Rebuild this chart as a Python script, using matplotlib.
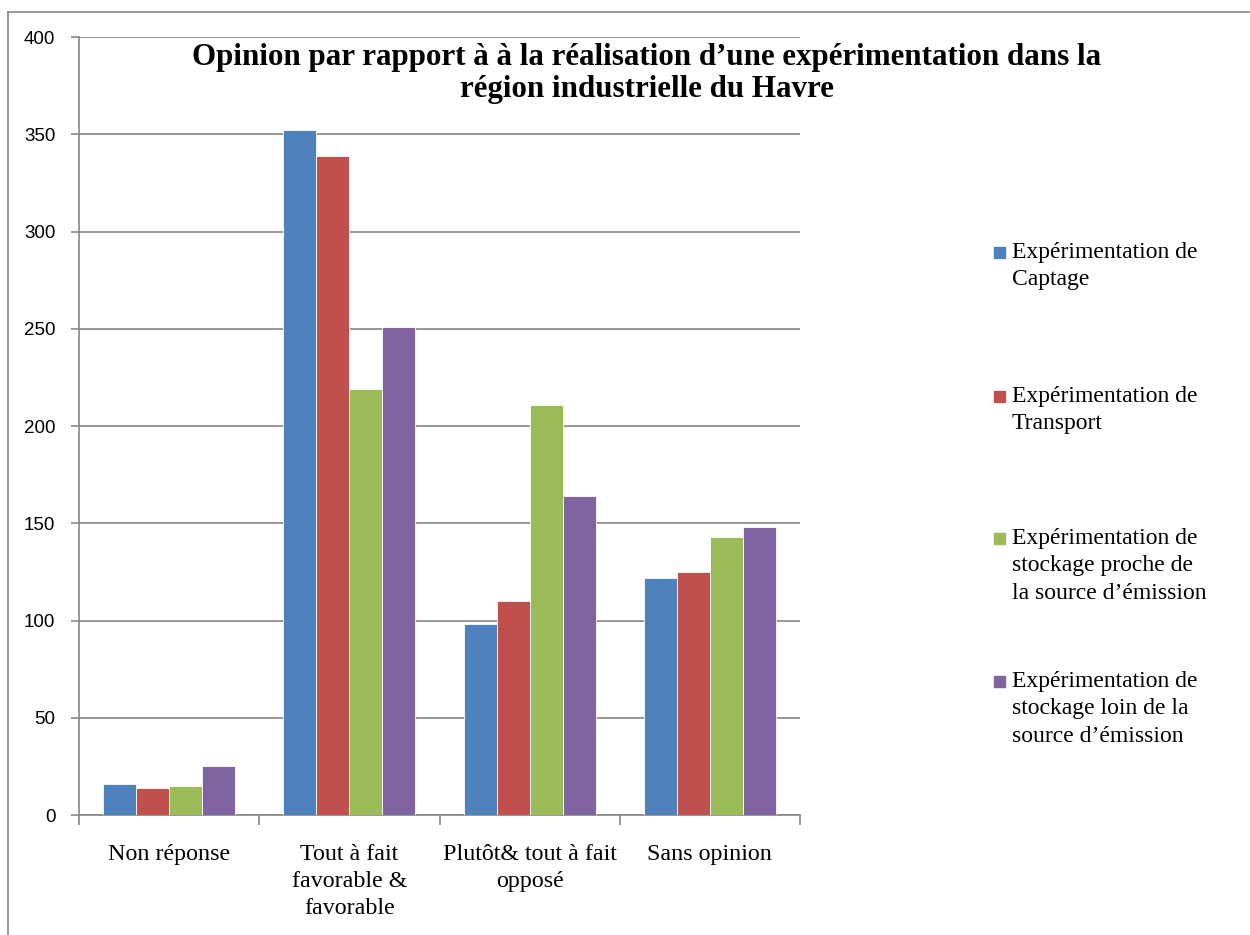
import numpy as np
import matplotlib.pyplot as plt
from matplotlib.lines import Line2D
from matplotlib.patches import Rectangle

categories = ['Non réponse', 'Tout à fait\nfavorable &\nfavorable',
              'Plutôt& tout à fait\nopposé', 'Sans opinion']
series_names = ['Expérimentation de\nCaptage',
                'Expérimentation de\nTransport',
                'Expérimentation de\nstockage proche de\nla source d’émission',
                'Expérimentation de\nstockage loin de la\nsource d’émission']
captage = [16, 352, 98, 122]
transport = [14, 339, 110, 125]
stockage_proche = [15, 219, 211, 143]
stockage_loin = [25, 251, 164, 148]
colors = ['#4F81BD', '#C0504D', '#9BBB59', '#8064A2']

W, H = 1250, 935
fig = plt.figure(figsize=(12.5, 9.35), dpi=100)
ax = fig.add_axes([79 / W, 1 - 815 / H, (800 - 79) / W, (815 - 37) / H])

grey = '#868686'
bw = 0.183
x = np.arange(len(categories)) + 0.5
for i, (vals, c) in enumerate(zip([captage, transport, stockage_proche, stockage_loin], colors)):
    ax.bar(x + (i - 1.5) * bw, vals, width=bw, color=c, edgecolor='white',
           linewidth=0.6, zorder=3)

ax.set_xlim(0, 4)
ax.set_ylim(0, 400)
ax.set_yticks(range(0, 401, 50))
ax.yaxis.grid(True, color=grey, linewidth=1.2, zorder=0)
ax.set_xticks([0, 1, 2, 3, 4])
ax.set_xticklabels([])
ax.set_xticks(x, minor=True)
ax.set_xticklabels(categories, minor=True, fontsize=17.3, family='Liberation Serif',
                   linespacing=1.38, va='top')
ax.tick_params(axis='x', which='minor', length=0, pad=21)
ax.tick_params(axis='x', which='major', length=7, color=grey, width=1.2)
ax.tick_params(axis='y', length=6, color=grey, width=1.2, pad=11)
for lab in ax.get_yticklabels():
    lab.set_family('Liberation Sans')
    lab.set_fontsize(13.5)
for s in ['top', 'right']:
    ax.spines[s].set_visible(False)
for s in ['left', 'bottom']:
    ax.spines[s].set_color(grey)
    ax.spines[s].set_linewidth(1.2)

fig.text(647 / W, 1 - 43 / H,
         'Opinion par rapport à à la réalisation d’une expérimentation dans la\nrégion industrielle du Havre',
         ha='center', va='top', fontsize=22.3, fontweight='bold',
         family='Liberation Serif', linespacing=1.12)

# legend drawn by hand, Excel-style vertical spread
leg_y = [252, 396, 538, 681]
for name, c, yc in zip(series_names, colors, leg_y):
    fig.patches.append(Rectangle((994 / W, 1 - (yc + 6) / H), 11 / W, 11 / H,
                                 transform=fig.transFigure, color=c))
    fig.text(1012 / W, 1 - (yc - 10) / H, name, ha='left', va='top',
             fontsize=17, family='Liberation Serif', linespacing=1.4)

# outer chart frame
fig.add_artist(Line2D([8 / W, 1], [1 - 12 / H, 1 - 12 / H], color=grey, linewidth=1.2))
fig.add_artist(Line2D([8 / W, 8 / W], [0, 1 - 12 / H], color=grey, linewidth=1.2))

fig.savefig('out.png', dpi=100)
